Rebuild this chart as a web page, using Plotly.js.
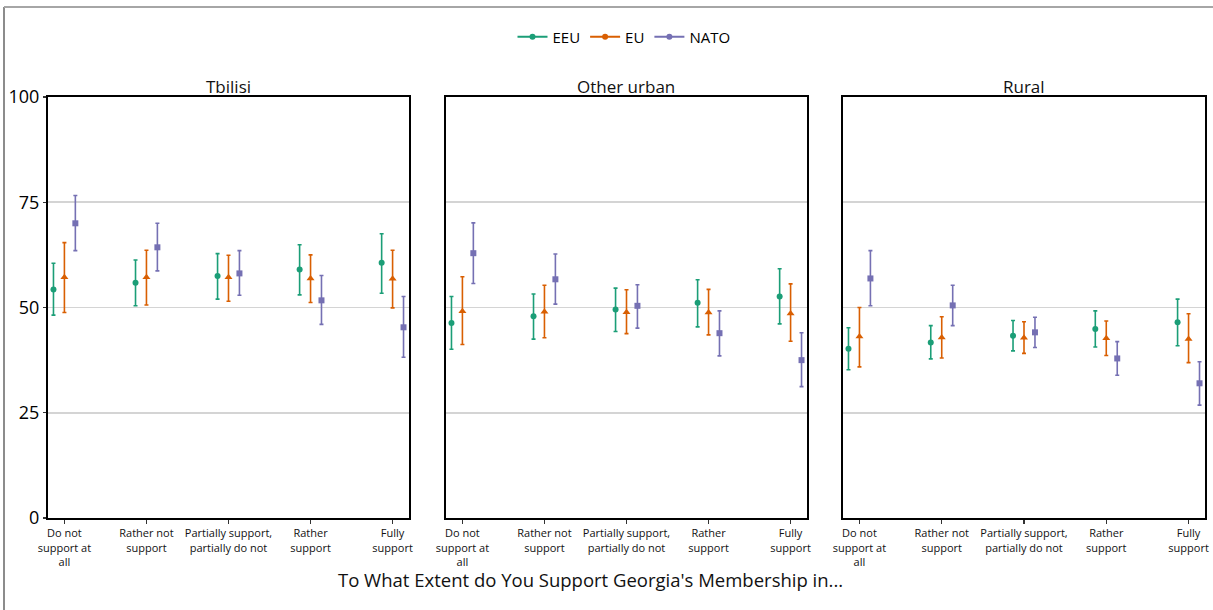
<!DOCTYPE html>
<html>
<head>
<meta charset="utf-8">
<script src="https://cdn.plot.ly/plotly-3.0.1.min.js"></script>
<style>
html,body{margin:0;padding:0;background:#fff;}
#chart{width:1213px;height:610px;}
</style>
</head>
<body>
<div id="chart"></div>
<script>
// ---- data ----
const categories = ["Do not<br>support at<br>all", "Rather not<br>support", "Partially support,<br>partially do not", "Rather<br>support", "Fully<br>support"];
const panels = ["Tbilisi", "Other urban", "Rural"];
const seriesNames = ["EEU", "EU", "NATO"];
const seriesColors = ["#1b9e77", "#d95f02", "#7570b3"];
const seriesSymbols = ["circle", "triangle-up", "square"];

// Tbilisi
const tbilisi_EEU = [54.3, 55.9, 57.5, 59.0, 60.6];
const tbilisi_EEU_lo = [48.2, 50.4, 52.0, 53.0, 53.4];
const tbilisi_EEU_hi = [60.5, 61.3, 62.8, 64.9, 67.5];
const tbilisi_EU = [57.2, 57.2, 57.2, 56.9, 56.8];
const tbilisi_EU_lo = [48.8, 50.6, 51.5, 51.2, 49.9];
const tbilisi_EU_hi = [65.4, 63.6, 62.4, 62.5, 63.6];
const tbilisi_NATO = [70.0, 64.3, 58.1, 51.7, 45.3];
const tbilisi_NATO_lo = [63.5, 58.7, 52.9, 46.0, 38.2];
const tbilisi_NATO_hi = [76.6, 70.0, 63.5, 57.6, 52.6];

// Other urban
const urban_EEU = [46.3, 47.9, 49.5, 51.1, 52.6];
const urban_EEU_lo = [40.1, 42.5, 44.3, 45.4, 46.1];
const urban_EEU_hi = [52.6, 53.2, 54.6, 56.6, 59.2];
const urban_EU = [49.1, 49.0, 48.9, 48.8, 48.6];
const urban_EU_lo = [41.2, 42.8, 43.8, 43.5, 42.0];
const urban_EU_hi = [57.3, 55.3, 54.2, 54.3, 55.6];
const urban_NATO = [62.9, 56.7, 50.4, 43.9, 37.5];
const urban_NATO_lo = [55.7, 50.8, 45.1, 38.5, 31.2];
const urban_NATO_hi = [70.1, 62.7, 55.4, 49.2, 44.0];

// Rural
const rural_EEU = [40.2, 41.7, 43.3, 44.9, 46.5];
const rural_EEU_lo = [35.2, 37.8, 39.7, 40.6, 40.9];
const rural_EEU_hi = [45.2, 45.7, 46.9, 49.2, 52.0];
const rural_EU = [43.1, 42.9, 42.8, 42.7, 42.5];
const rural_EU_lo = [35.9, 38.0, 39.1, 38.6, 36.9];
const rural_EU_hi = [50.0, 47.8, 46.6, 46.8, 48.5];
const rural_NATO = [56.9, 50.5, 44.1, 37.9, 32.0];
const rural_NATO_lo = [50.4, 45.7, 40.5, 33.9, 26.8];
const rural_NATO_hi = [63.5, 55.3, 47.7, 41.9, 37.1];

const yTicks = [0, 25, 50, 75, 100];
const xTitle = "To What Extent do You Support Georgia's Membership in...";

// ---- build ----
const panelData = [
  [[tbilisi_EEU, tbilisi_EEU_lo, tbilisi_EEU_hi], [tbilisi_EU, tbilisi_EU_lo, tbilisi_EU_hi], [tbilisi_NATO, tbilisi_NATO_lo, tbilisi_NATO_hi]],
  [[urban_EEU, urban_EEU_lo, urban_EEU_hi], [urban_EU, urban_EU_lo, urban_EU_hi], [urban_NATO, urban_NATO_lo, urban_NATO_hi]],
  [[rural_EEU, rural_EEU_lo, rural_EEU_hi], [rural_EU, rural_EU_lo, rural_EU_hi], [rural_NATO, rural_NATO_lo, rural_NATO_hi]]
];

const W = 1213, H = 610;
const dodge = 0.4;
const traces = [];
panelData.forEach((pd, p) => {
  const ax = p === 0 ? '' : String(p + 1);
  pd.forEach((s, k) => {
    const [v, lo, hi] = s;
    const off = (k - 1) * dodge / 3;
    traces.push({
      type: 'scatter', mode: 'markers',
      x: v.map((_, i) => i + off), y: v,
      xaxis: 'x' + ax, yaxis: 'y' + ax,
      showlegend: false, hoverinfo: 'skip',
      marker: {color: seriesColors[k], symbol: seriesSymbols[k], size: k === 1 ? 7 : 6},
      error_y: {type: 'data', symmetric: false,
        array: v.map((d, i) => hi[i] - d),
        arrayminus: v.map((d, i) => d - lo[i]),
        color: seriesColors[k], thickness: 1.6, width: 2}
    });
  });
});
// legend entries
seriesNames.forEach((n, k) => {
  traces.push({type: 'scatter', mode: 'lines+markers', x: [null], y: [null], name: n,
    line: {color: seriesColors[k], width: 2}, marker: {color: seriesColors[k], symbol: 'circle', size: 6},
    xaxis: 'x', yaxis: 'y'});
});

const px = v => v / W, py = v => 1 - v / H;
const xDomains = [[48, 409], [446, 807], [843, 1205]];
const yDomain = [py(518), py(97)];
const baseFont = "Open Sans, Noto Sans, sans-serif";

const layout = {
  width: W, height: H,
  margin: {l: 0, r: 0, t: 0, b: 0},
  paper_bgcolor: '#fff', plot_bgcolor: '#fff',
  font: {family: baseFont, color: '#000'},
  showlegend: true,
  legend: {orientation: 'h', x: px(624), y: py(37), xanchor: 'center', yanchor: 'middle',
    font: {size: 15, color: '#000'}, itemwidth: 30, tracegroupgap: 0, bgcolor: 'rgba(0,0,0,0)'},
  annotations: [],
  shapes: [
    {type: 'line', xref: 'paper', yref: 'paper', x0: px(4), x1: px(4), y0: 0, y1: py(7), line: {color: '#8c8c8c', width: 2}},
    {type: 'line', xref: 'paper', yref: 'paper', x0: px(4), x1: 1, y0: py(7), y1: py(7), line: {color: '#a6a6a6', width: 2}}
  ]
};

xDomains.forEach((d, p) => {
  const ax = p === 0 ? '' : String(p + 1);
  layout['xaxis' + ax] = {
    domain: [px(d[0]), px(d[1])], range: [-0.2, 4.2], anchor: 'y' + ax,
    tickmode: 'array', tickvals: categories.map((_, i) => i), ticktext: categories,
    ticks: 'outside', ticklen: 4, tickwidth: 1.2, tickcolor: '#333',
    tickfont: {size: 11, color: '#111', family: baseFont},
    showgrid: false, zeroline: false,
    showline: true, mirror: true, linecolor: '#000', linewidth: 2
  };
  layout['yaxis' + ax] = {
    domain: yDomain, range: [0, 100], anchor: 'x' + ax,
    tickmode: 'array', tickvals: yTicks,
    showticklabels: p === 0, ticks: p === 0 ? 'outside' : '', ticklen: 3, tickwidth: 1.2, tickcolor: '#333',
    tickfont: {size: 18, color: '#000', family: baseFont},
    showgrid: true, gridcolor: '#d4d4d4', gridwidth: 1.6, zeroline: false,
    showline: true, mirror: true, linecolor: '#000', linewidth: 2
  };
  layout.annotations.push({text: panels[p], xref: 'paper', yref: 'paper',
    x: px((d[0] + d[1]) / 2), y: py(86), xanchor: 'center', yanchor: 'middle',
    showarrow: false, font: {size: 17, color: '#111'}});
});
layout.annotations.push({text: xTitle, xref: 'paper', yref: 'paper', x: px(590), y: py(579),
  xanchor: 'center', yanchor: 'middle', showarrow: false, font: {size: 18.5, color: '#111'}});

Plotly.newPlot('chart', traces, layout, {staticPlot: true, displayModeBar: false});
</script>
</body>
</html>
